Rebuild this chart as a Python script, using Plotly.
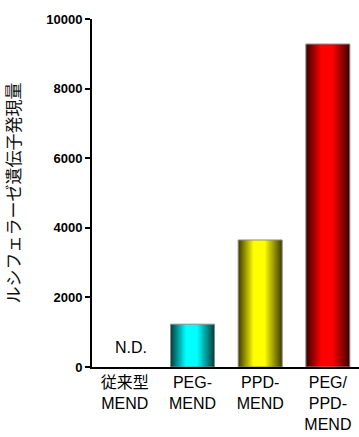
import plotly.graph_objects as go

# Luciferase expression per formulation
categories = ["従来型<br>MEND", "PEG-<br>MEND", "PPD-<br>MEND", "PEG/<br>PPD-<br>MEND"]
values = [0, 1230, 3650, 9280]
detected = [False, True, True, True]
edge_colors = ["#000000", "#003c3c", "#3a3a00", "#3a0000"]
mid_colors = ["#000000", "#00ffff", "#ffff00", "#ff0000"]
y_ticks = [0, 2000, 4000, 6000, 8000, 10000]

bar_width = 0.65

fig = go.Figure()

for i, (v, ok) in enumerate(zip(values, detected)):
    if not ok:
        continue
    x0, x1 = i - bar_width / 2, i + bar_width / 2
    fig.add_trace(go.Scatter(
        x=[x0, x0, x1, x1, x0],
        y=[0, v, v, 0, 0],
        mode="lines",
        fill="toself",
        fillgradient=dict(
            type="horizontal",
            colorscale=[
                [0.0, edge_colors[i]],
                [0.35, mid_colors[i]],
                [0.6, mid_colors[i]],
                [1.0, edge_colors[i]],
            ],
        ),
        line=dict(color="#8a8a8a", width=1),
        hoverinfo="skip",
        showlegend=False,
    ))

# Not-detected marker for the conventional formulation
for i, ok in enumerate(detected):
    if not ok:
        fig.add_annotation(
            x=i, y=0, xref="x", yref="y",
            text="N.D.", showarrow=False,
            yanchor="bottom", yshift=9, xshift=6,
            font=dict(size=16, color="black", family="Arial, Liberation Sans, sans-serif"),
        )

fig.update_layout(
    width=359, height=437,
    margin=dict(l=92, r=0, t=19, b=70),
    paper_bgcolor="white",
    plot_bgcolor="white",
    font=dict(family="Arial, Liberation Sans, Noto Sans CJK JP, sans-serif", color="black"),
    xaxis=dict(
        range=[-0.485, 3.46],
        tickmode="array",
        tickvals=list(range(len(categories))),
        ticktext=categories,
        tickfont=dict(size=16, family="Arial, Liberation Sans, Noto Sans CJK JP, sans-serif"),
        showline=True, linecolor="black", linewidth=2,
        ticks="", showgrid=False, zeroline=False,
        fixedrange=True,
    ),
    yaxis=dict(
        range=[0, 10000],
        tickmode="array",
        tickvals=y_ticks,
        ticktext=[f"<b>{t}</b>" for t in y_ticks],
        tickfont=dict(size=13, family="Arial, Liberation Sans, sans-serif"),
        showline=True, linecolor="black", linewidth=2,
        ticks="outside", ticklen=5, tickwidth=2, tickcolor="black",
        showgrid=False, zeroline=False,
        title=dict(text="ルシフェラーゼ遺伝子発現量",
                   font=dict(size=17, family="Noto Sans CJK JP, sans-serif", color="#111111"),
                   standoff=26),
        fixedrange=True,
    ),
)

fig.write_html("out.html")
